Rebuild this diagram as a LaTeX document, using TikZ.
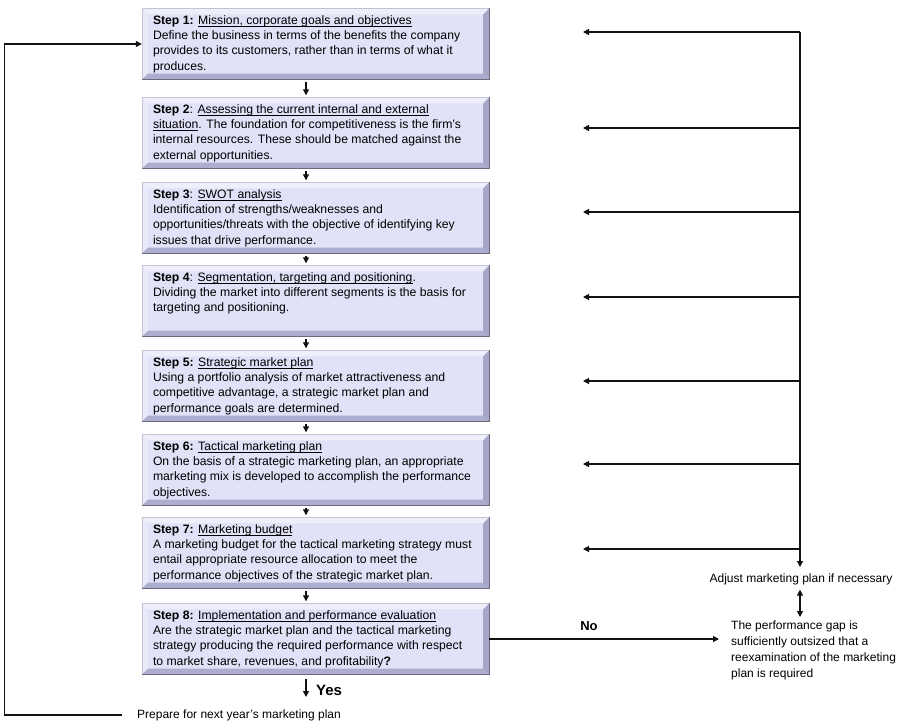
\documentclass[tikz,border=0pt]{standalone}
\usepackage{fontspec}
\setmainfont{Liberation Sans}
\usetikzlibrary{arrows.meta,calc,backgrounds}
\definecolor{boxfill}{HTML}{E1E1F7}
\definecolor{bevtop}{HTML}{EFEFFC}
\definecolor{bevleft}{HTML}{E9E9FA}
\definecolor{bevright}{HTML}{A6A6C8}
\definecolor{bevbot}{HTML}{ADADCF}
\definecolor{edgedark}{HTML}{6A6A7C}
\definecolor{edgelight}{HTML}{C4C4D4}
\definecolor{ink}{HTML}{111111}
\newsavebox{\ulbox}
\newcommand{\ul}[1]{\sbox{\ulbox}{#1}\rlap{\rule[-1.8pt]{\wd\ulbox}{0.55pt}}\usebox{\ulbox}}
\newcommand{\steptext}[1]{\parbox[t][61pt][t]{325pt}{\fontsize{12.2}{15.2}\selectfont\rule{0pt}{11pt}#1}}
\tikzset{
  stepbox/.style={rectangle, minimum width=343pt, minimum height=71pt, inner xsep=11pt, inner ysep=5pt, anchor=center},
  arr/.style={draw=ink, line width=1.2pt, -{Triangle[length=6pt,width=6pt]}},
  lbl/.style={font=\fontsize{12}{16}\selectfont, inner sep=0pt}
}
\begin{document}
\begin{tikzpicture}[x=1pt,y=-1pt]
\useasboundingbox (0,0) rectangle (900,726);

\node[stepbox] (s1) at (315.5,44) {\steptext{\textbf{Step 1:} \ul{Mission, corporate goals and objectives}\\
Define the business in terms of the benefits the company\\
provides to its customers, rather than in terms of what it\\
produces.}};
\node[stepbox] (s2) at (315.5,133) {\steptext{\textbf{Step 2}: \ul{Assessing the current internal and external}\\
\ul{situation}. The foundation for competitiveness is the firm's\\
internal resources. These should be matched against the\\
external opportunities.}};
\node[stepbox] (s3) at (315.5,218) {\steptext{\textbf{Step 3}: \ul{SWOT analysis}\\
Identification of strengths/weaknesses and\\
opportunities/threats with the objective of identifying key\\
issues that drive performance.}};
\node[stepbox] (s4) at (315.5,301) {\steptext{\textbf{Step 4}: \ul{Segmentation, targeting and positioning}.\\
Dividing the market into different segments is the basis for\\
targeting and positioning.}};
\node[stepbox] (s5) at (315.5,386) {\steptext{\textbf{Step 5:} \ul{Strategic market plan}\\
Using a portfolio analysis of market attractiveness and\\
competitive advantage, a strategic market plan and\\
performance goals are determined.}};
\node[stepbox] (s6) at (315.5,470) {\steptext{\textbf{Step 6:} \ul{Tactical marketing plan}\\
On the basis of a strategic marketing plan, an appropriate\\
marketing mix is developed to accomplish the performance\\
objectives.}};
\node[stepbox] (s7) at (315.5,553) {\steptext{\textbf{Step 7:} \ul{Marketing budget}\\
A marketing budget for the tactical marketing strategy must\\
entail appropriate resource allocation to meet the\\
performance objectives of the strategic market plan.}};
\node[stepbox] (s8) at (315.5,639) {\steptext{\textbf{Step 8:} \ul{Implementation and performance evaluation}\\
Are the strategic market plan and the tactical marketing\\
strategy producing the required performance with respect\\
to market share, revenues, and profitability\textbf{?}}};

% bevelled backgrounds
\begin{scope}[on background layer]
\foreach \n in {s1,s2,s3,s4,s5,s6,s7,s8} {
  \fill[boxfill] (\n.north west) rectangle (\n.south east);
  \fill[bevtop] (\n.north west) -- (\n.north east) -- ([xshift=-6pt,yshift=-6pt]\n.north east) -- ([xshift=6pt,yshift=-6pt]\n.north west) -- cycle;
  \fill[bevleft] (\n.north west) -- ([xshift=6pt,yshift=-6pt]\n.north west) -- ([xshift=6pt,yshift=6pt]\n.south west) -- (\n.south west) -- cycle;
  \fill[bevright] (\n.north east) -- ([xshift=-6pt,yshift=-6pt]\n.north east) -- ([xshift=-6pt,yshift=6pt]\n.south east) -- (\n.south east) -- cycle;
  \fill[bevbot] (\n.south west) -- ([xshift=6pt,yshift=6pt]\n.south west) -- ([xshift=-6pt,yshift=6pt]\n.south east) -- (\n.south east) -- cycle;
  \draw[edgelight, line width=0.6pt] (\n.south west) -- (\n.north west) -- (\n.north east);
  \draw[edgedark, line width=0.8pt] (\n.north east) -- (\n.south east) -- (\n.south west);
}
\end{scope}

% vertical arrows between steps
\coordinate (ax) at (306,0);
\foreach \a/\b in {s1/s2,s2/s3,s3/s4,s4/s5,s5/s6,s6/s7,s7/s8} {
  \draw[arr, shorten <=2pt, shorten >=2pt] (\a.south -| ax) -- (\b.north -| ax);
}

% right-hand side
\node[lbl, anchor=north] (adj) at (801,574) {Adjust marketing plan if necessary};
\node[lbl, anchor=north west, align=left] (gap) at (731,621) {The performance gap is\\
sufficiently outsized that a\\
reexamination of the marketing\\
plan is required};
\coordinate (top) at (800,32);
\draw[arr] (top) -- (top |- 0,567);
\foreach \y in {32,128,212,297,381,464,549} {
  \coordinate (fb\y) at (800,\y);
  \coordinate (tip\y) at (583,\y);
  \draw[arr] (fb\y) -- (tip\y);
}
\draw[draw=ink, line width=1.2pt, {Triangle[length=6pt,width=6pt]}-{Triangle[length=6pt,width=6pt]}, shorten <=4pt, shorten >=4pt] (adj.south -| top) -- (gap.north -| top);

% No branch
\draw[arr, shorten >=12pt] (s8.east) -- (s8.east -| gap.west);
\node[lbl, font=\fontsize{13}{15}\selectfont\bfseries] (no) at (589,626) {No};

% Yes branch
\coordinate (yestop) at (306,679);
\coordinate (yesbot) at (306,697);
\draw[arr] (yestop) -- (yesbot);
\node[lbl, anchor=west, font=\fontsize{15}{17}\selectfont\bfseries] (yes) at (316,690) {Yes};

\node[lbl, anchor=west] (prep) at (137,715) {Prepare for next year's marketing plan};
\draw[arr] ([xshift=-15pt]prep.west) -| ([xshift=-137pt]s1.west) -- (s1.west);
\end{tikzpicture}
\end{document}
